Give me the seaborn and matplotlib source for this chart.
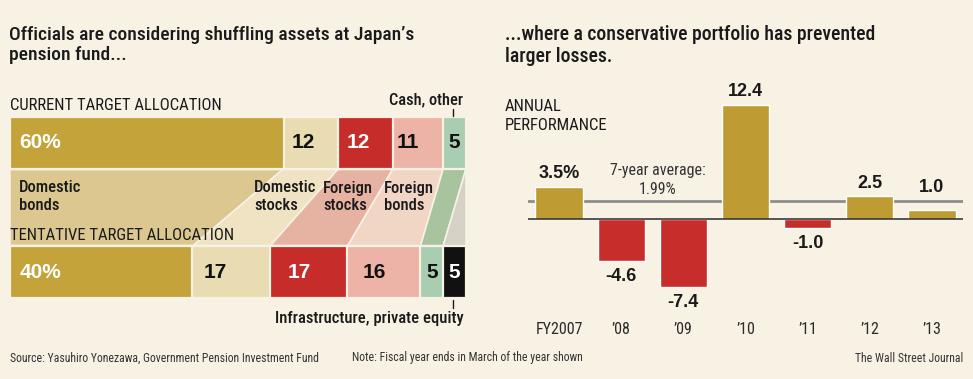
import matplotlib
matplotlib.use("Agg")
import matplotlib.pyplot as plt
import seaborn as sns
import pandas as pd
from matplotlib import font_manager as fm

# ---------------- data ----------------
segments = ["Domestic bonds", "Domestic stocks", "Foreign stocks", "Foreign bonds",
            "Cash, other", "Infrastructure, private equity"]
current_alloc = [60, 12, 12, 11, 5, 0]
tentative_alloc = [40, 17, 17, 16, 5, 5]
alloc_rows = ["CURRENT TARGET ALLOCATION", "TENTATIVE TARGET ALLOCATION"]
band_labels = ["Domestic\nbonds", "Domestic\nstocks", "Foreign\nstocks", "Foreign\nbonds"]

years = ["FY2007", "\u201908", "\u201909", "\u201910", "\u201911", "\u201912", "\u201913"]
performance = [3.5, -4.6, -7.4, 12.4, -1.0, 2.5, 1.0]
perf_labels = ["3.5%", "-4.6", "-7.4", "12.4", "-1.0", "2.5", "1.0"]
seven_year_avg = 1.99

# ---------------- style ----------------
BG = "#f8f2e5"
bar_colors = ["#c4a33b", "#e9dcb2", "#c62d2a", "#ecb3a6", "#a9cdb1", "#111111"]
band_colors = ["#dbc78f", "#efe3c3", "#e6b2a2", "#f1d6c6", "#a7c49e", "#d6d3c6"]
num_colors = ["white", "#111111", "white", "#111111", "#111111", "white"]
GOLD = "#bf9b33"
RED = "#c72e2b"
TXT = "#1a1a1a"

sns.set_theme(style="white")
names = {f.name for f in fm.fontManager.ttflist}


def pick(cands):
    for c in cands:
        if c in names:
            return c
    return "DejaVu Sans"


COND = pick(["Roboto Condensed", "PT Sans Narrow", "Liberation Sans"])
WIDE = pick(["Liberation Sans", "DejaVu Sans"])
plt.rcParams["font.family"] = [COND, "DejaVu Sans"]

W, H = 973, 379
fig = plt.figure(figsize=(W / 100, H / 100), dpi=100, facecolor=BG)


def px_axes(x0, y0, x1, y1):
    return fig.add_axes([x0 / W, 1 - y1 / H, (x1 - x0) / W, (y1 - y0) / H])


def ftext(x, y, s, **kw):
    kw.setdefault("va", "center")
    kw.setdefault("color", TXT)
    fig.text(x / W, 1 - y / H, s, **kw)


# ---------------- left panel: allocation ----------------
axL = px_axes(10, 46, 466, 349)
axL.set_facecolor("none")
n = len(segments)
cum_cur = pd.Series(current_alloc).cumsum().tolist()
cum_ten = pd.Series(tentative_alloc).cumsum().tolist()
start_cur = [0] + cum_cur[:-1]
start_ten = [0] + cum_ten[:-1]

# stacked bars: draw cumulative widths from the last segment to the first
for k in range(n - 1, -1, -1):
    rows, vals = [], []
    for r, (alloc, cum) in enumerate([(current_alloc, cum_cur), (tentative_alloc, cum_ten)]):
        if alloc[k] > 0:
            rows.append(alloc_rows[r])
            vals.append(cum[k])
    df = pd.DataFrame({"row": rows, "cum": vals})
    sns.barplot(data=df, x="cum", y="row", order=alloc_rows, orient="h",
                color=bar_colors[k], saturation=1, width=0.4,
                edgecolor=BG, linewidth=1.6, ax=axL)

# connecting bands
yt, yb = 0.2, 0.8
for k in range(n):
    xs = [start_cur[k], cum_cur[k], cum_ten[k], start_ten[k]]
    ys = [yt, yt, yb, yb]
    axL.fill(xs, ys, color=band_colors[k], edgecolor=BG, linewidth=1.2, zorder=0)

axL.set_xlim(0, 100)
axL.set_ylim((349 - 143) / 129, -(143 - 46) / 129)
axL.axis("off")

# numbers inside bars
px_per = 4.56
off_cur = [9, 8, 8, 4, None, None]
off_ten = [10, 11, 18, 15, None, None]
for r, (alloc, starts, offs) in enumerate([(current_alloc, start_cur, off_cur),
                                            (tentative_alloc, start_ten, off_ten)]):
    for k in range(n):
        if alloc[k] <= 0:
            continue
        label = f"{alloc[k]}%" if k == 0 else str(alloc[k])
        if offs[k] is None:
            x = starts[k] + alloc[k] / 2
            ha = "center"
        else:
            x = starts[k] + offs[k] / px_per
            ha = "left"
        axL.text(x, r, label, ha=ha, va="center", fontsize=15, fontweight="bold",
                 family=[WIDE], color=num_colors[k])

# band labels
band_pos = [(19, 197), (254, 197), (323, 197), (384, 197)]
for (x, y), s in zip(band_pos, band_labels):
    ftext(x, y, s, ha="left", fontsize=12, fontweight=500, linespacing=1.25)

# section labels
ftext(10, 106, alloc_rows[0], ha="left", fontsize=12)
ftext(10, 235, alloc_rows[1], ha="left", fontsize=12)
ftext(463, 100, segments[4], ha="right", fontsize=11.8, fontweight=500)
ftext(464, 319, segments[5], ha="right", fontsize=12, fontweight=500)
fig.add_artist(plt.Line2D([453 / W, 453 / W], [1 - 109 / H, 1 - 116 / H], color=TXT, lw=1))
fig.add_artist(plt.Line2D([453 / W, 453 / W], [1 - 300 / H, 1 - 308 / H], color=TXT, lw=1))

# ---------------- right panel: performance ----------------
axR = px_axes(528, 90, 963, 310)
axR.set_facecolor("none")
perf_df = pd.DataFrame({"year": years, "perf": performance})
palette = [GOLD if v >= 0 else RED for v in performance]
sns.barplot(data=perf_df, x="year", y="perf", hue="year", palette=palette,
            saturation=1, width=0.76, legend=False, ax=axR, zorder=2)
axR.axhline(0, color="#2a2a2a", lw=1.1, zorder=3)
axR.axhline(seven_year_avg, color="#8c8c8c", lw=2, zorder=1)
axR.set_xlim(-0.5, len(years) - 0.5)
ppu = 9.2
axR.set_ylim(-(310 - 219) / ppu, (219 - 90) / ppu)
for s in axR.spines.values():
    s.set_visible(False)
axR.set_xlabel("")
axR.set_ylabel("")
axR.set_yticks([])
axR.tick_params(axis="x", length=0, pad=9, labelsize=11.5, labelcolor="#2a2a2a")

for i, (v, lab) in enumerate(zip(performance, perf_labels)):
    if v >= 0:
        axR.annotate(lab, (i, max(v, seven_year_avg)), xytext=(0, 13 * 0.72),
                     textcoords="offset points", ha="center", va="center",
                     fontsize=13, fontweight="bold", family=[WIDE], color=TXT)
    else:
        axR.annotate(lab, (i, v), xytext=(0, -15 * 0.72),
                     textcoords="offset points", ha="center", va="center",
                     fontsize=13, fontweight="bold", family=[WIDE], color=TXT)

ftext(658, 180, f"7-year average:\n{seven_year_avg:.2f}%", ha="center",
      fontsize=11.5, color="#333333", linespacing=1.3)
ftext(505, 116, "ANNUAL\nPERFORMANCE", ha="left", fontsize=12, linespacing=1.35)

# ---------------- titles and footer ----------------
ftext(9, 45, "Officials are considering shuffling assets at Japan\u2019s\npension fund...",
      ha="left", fontsize=14, fontweight=500, linespacing=1.2)
ftext(505, 45, "...where a conservative portfolio has prevented\nlarger losses.",
      ha="left", fontsize=14.2, fontweight=500, linespacing=1.2)
ftext(10, 358, "Source: Yasuhiro Yonezawa, Government Pension Investment Fund",
      ha="left", fontsize=8.5, color="#333333")
ftext(352, 358, "Note: Fiscal year ends in March of the year shown",
      ha="left", fontsize=8.5, color="#333333")
ftext(963, 358, "The Wall Street Journal", ha="right", fontsize=8.5, color="#333333")

fig.savefig("out.png", dpi=100, facecolor=BG)
